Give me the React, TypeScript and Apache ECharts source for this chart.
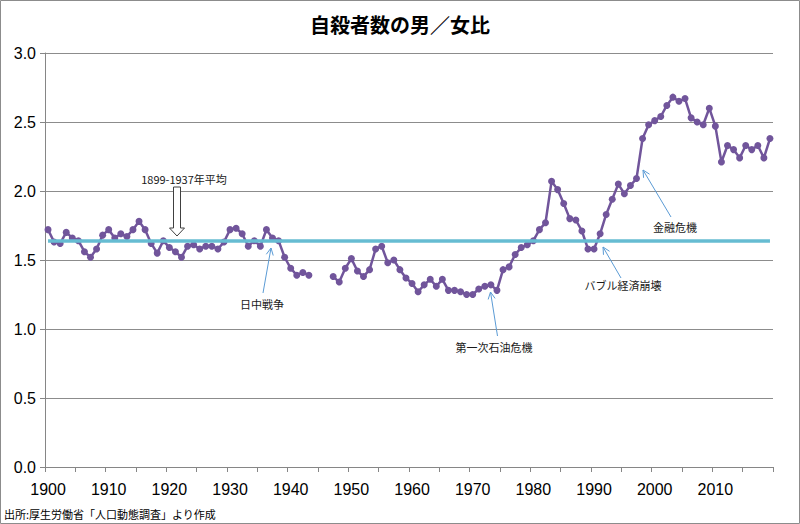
import React, { useEffect, useRef } from "react";
import * as echarts from "echarts";

const years: string[] = [];
for (let y = 1900; y <= 2019; y++) years.push(String(y));

// 男/女 自殺者数比 (1900-2019), 1944-1946 no data
const ratio: (number | null)[] = [
  1.72, 1.63, 1.62, 1.70, 1.66, 1.64, 1.56, 1.52, 1.58, 1.68, // 1900-1909
  1.72, 1.66, 1.69, 1.67, 1.72, 1.78, 1.72, 1.62, 1.55, 1.64, // 1910-1919
  1.59, 1.56, 1.52, 1.60, 1.61, 1.58, 1.60, 1.60, 1.58, 1.63, // 1920-1929
  1.72, 1.73, 1.69, 1.60, 1.64, 1.60, 1.72, 1.66, 1.64, 1.52, // 1930-1939
  1.44, 1.39, 1.41, 1.39, null, null, null, 1.38, 1.34, 1.44, // 1940-1949
  1.51, 1.42, 1.38, 1.43, 1.58, 1.60, 1.48, 1.50, 1.43, 1.37, // 1950-1959
  1.33, 1.27, 1.32, 1.36, 1.31, 1.36, 1.28, 1.28, 1.27, 1.25, // 1960-1969
  1.25, 1.29, 1.31, 1.32, 1.28, 1.43, 1.45, 1.54, 1.59, 1.61, // 1970-1979
  1.64, 1.72, 1.77, 2.07, 2.01, 1.91, 1.80, 1.79, 1.71, 1.58, // 1980-1989
  1.58, 1.69, 1.83, 1.94, 2.05, 1.98, 2.04, 2.09, 2.38, 2.48, // 1990-1999
  2.51, 2.54, 2.62, 2.68, 2.65, 2.67, 2.53, 2.50, 2.48, 2.60, // 2000-2009
  2.47, 2.21, 2.33, 2.30, 2.24, 2.33, 2.30, 2.33, 2.24, 2.38, // 2010-2019
];

const AVG_1899_1937 = 1.64;

const TITLE = "自殺者数の男／女比";
const SOURCE = "出所:厚生労働省「人口動態調査」より作成";
const AVG_LABEL = "1899-1937年平均";

// annotations: label, text centre, arrow start, arrow end (pixel layout)
const notes = [
  { text: "日中戦争", tx: 262, ty: 304, x1: 263, y1: 293, x2: 271, y2: 248 },
  { text: "第一次石油危機", tx: 494, ty: 347, x1: 497.5, y1: 336, x2: 490.5, y2: 292 },
  { text: "バブル経済崩壊", tx: 623, ty: 285, x1: 621, y1: 278, x2: 603, y2: 247 },
  { text: "金融危機", tx: 675, ty: 227, x1: 671, y1: 217, x2: 643, y2: 170 },
];

const CJK = '"Noto Sans CJK JP", "Noto Sans", sans-serif';
const NUM = '"Liberation Sans Narrow", "Liberation Sans", sans-serif';

function arrowGraphics() {
  const els: any[] = [];
  const col = "#5b9bd5";
  for (const n of notes) {
    const dx = n.x2 - n.x1;
    const dy = n.y2 - n.y1;
    const len = Math.sqrt(dx * dx + dy * dy);
    const ux = dx / len;
    const uy = dy / len;
    const h = 7;
    const w = 3.5;
    const bx = n.x2 - ux * h;
    const by = n.y2 - uy * h;
    els.push({
      type: "line",
      shape: { x1: n.x1, y1: n.y1, x2: n.x2, y2: n.y2 },
      style: { stroke: col, lineWidth: 1 },
      z: 10,
    });
    els.push({
      type: "polyline",
      shape: {
        points: [
          [bx - uy * w, by + ux * w],
          [n.x2, n.y2],
          [bx + uy * w, by - ux * w],
        ],
      },
      style: { stroke: col, lineWidth: 1, fill: "none" },
      z: 10,
    });
    els.push({
      type: "text",
      x: n.tx,
      y: n.ty,
      style: {
        text: n.text,
        fontSize: 11,
        fontFamily: CJK,
        fill: "#1a1a1a",
        align: "center",
        verticalAlign: "middle",
      },
      z: 10,
    });
  }
  return els;
}

export default function App() {
  const ref = useRef<HTMLDivElement>(null);
  useEffect(() => {
    if (!ref.current) return;
    const chart = echarts.init(ref.current, null, { renderer: "svg" });
    chart.setOption({
      animation: false,
      backgroundColor: "#ffffff",
      title: {
        text: TITLE,
        left: "center",
        top: 9,
        textStyle: {
          fontSize: 20,
          fontWeight: "bold",
          fontFamily: CJK,
          color: "#000",
        },
      },
      grid: { left: 45, right: 27, top: 53, bottom: 57, containLabel: false },
      xAxis: {
        type: "category",
        data: years,
        boundaryGap: true,
        axisLine: { show: true, lineStyle: { color: "#868686", width: 1 } },
        axisTick: {
          show: true,
          interval: 4,
          length: 5,
          lineStyle: { color: "#868686" },
        },
        axisLabel: {
          interval: 9,
          margin: 14,
          fontSize: 16,
          fontFamily: NUM,
          color: "#000",
        },
        splitLine: { show: false },
      },
      yAxis: {
        type: "value",
        min: 0,
        max: 3,
        interval: 0.5,
        axisLine: { show: true, lineStyle: { color: "#868686", width: 1 } },
        axisTick: { show: true, length: 5, lineStyle: { color: "#868686" } },
        axisLabel: {
          margin: 9,
          fontSize: 16,
          fontFamily: NUM,
          color: "#000",
          formatter: (v: number) => v.toFixed(1),
        },
        splitLine: { show: true, lineStyle: { color: "#8c8c8c", width: 1 } },
      },
      series: [
        {
          name: "avg",
          type: "line",
          data: [],
          z: 1,
          silent: true,
          markLine: {
            silent: true,
            symbol: ["none", "none"],
            label: { show: false },
            lineStyle: { color: "#66bcd2", width: 3.5, type: "solid" },
            data: [
              [
                { coord: [years[0], AVG_1899_1937] },
                { coord: [years[years.length - 1], AVG_1899_1937] },
              ],
            ],
          },
        },
        {
          name: "ratio",
          type: "line",
          data: ratio,
          z: 3,
          connectNulls: false,
          symbol: "circle",
          symbolSize: 7,
          showSymbol: true,
          showAllSymbol: true,
          itemStyle: { color: "#71559b" },
          lineStyle: { color: "#71559b", width: 2.5 },
        },
      ],
      graphic: [
        {
          type: "rect",
          shape: { x: 0.5, y: 0.5, width: 799, height: 523 },
          style: { stroke: "#8c8c8c", fill: "none", lineWidth: 1 },
          z: 0,
        },
        {
          type: "polygon",
          shape: {
            points: [
              [173.5, 187],
              [180.5, 187],
              [180.5, 228],
              [184.5, 228],
              [177, 236],
              [169.5, 228],
              [173.5, 228],
            ],
          },
          style: { stroke: "#404040", fill: "#ffffff", lineWidth: 1 },
          z: 10,
        },
        {
          type: "text",
          x: 184,
          y: 179,
          style: {
            text: AVG_LABEL,
            fontSize: 11,
            fontFamily: CJK,
            fill: "#1a1a1a",
            align: "center",
            verticalAlign: "middle",
          },
          z: 10,
        },
        {
          type: "text",
          x: 4,
          y: 514,
          style: {
            text: SOURCE,
            fontSize: 11,
            fontFamily: CJK,
            fill: "#000",
            align: "left",
            verticalAlign: "middle",
          },
          z: 10,
        },
        ...arrowGraphics(),
      ],
    });
    return () => chart.dispose();
  }, []);
  return (
    <div
      ref={ref}
      style={{ position: "fixed", left: 0, top: 0, width: 800, height: 524 }}
    />
  );
}
